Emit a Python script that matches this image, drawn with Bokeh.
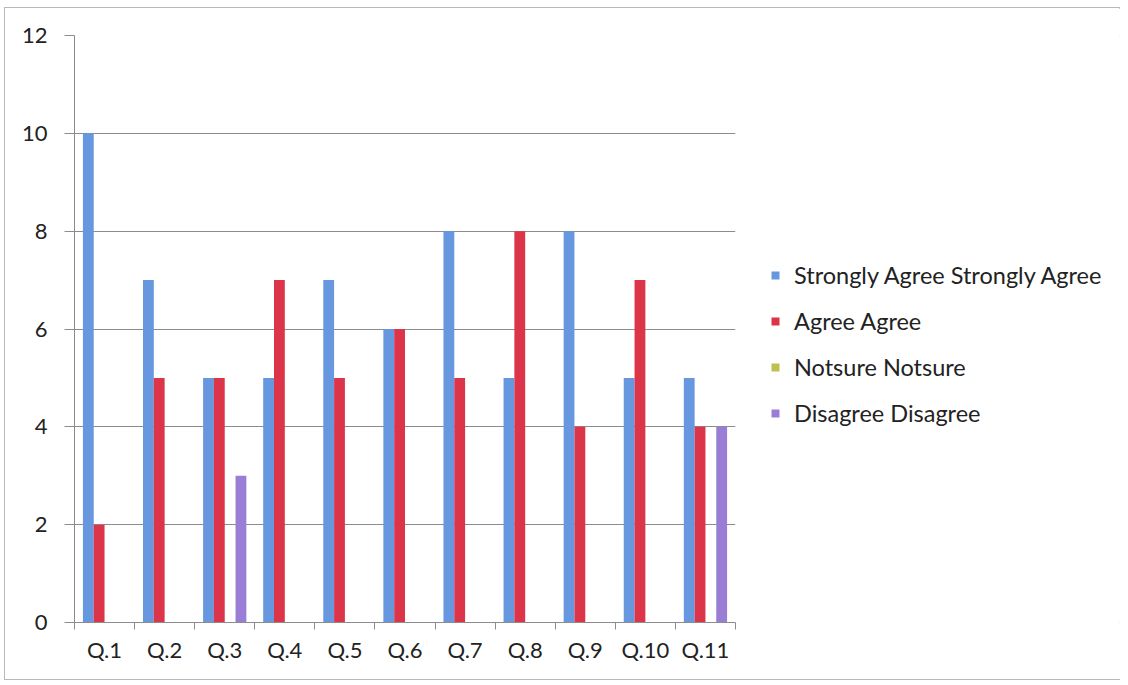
import numpy as np
from bokeh.plotting import figure
from bokeh.layouts import row
from bokeh.models import FixedTicker, Legend, LegendItem, Range1d
from bokeh.embed import file_html
from bokeh.resources import INLINE

categories = ["Q.1", "Q.2", "Q.3", "Q.4", "Q.5", "Q.6", "Q.7", "Q.8", "Q.9", "Q.10", "Q.11"]
strongly_agree = [10, 7, 5, 5, 7, 6, 8, 5, 8, 5, 5]
agree = [2, 5, 5, 7, 5, 6, 5, 8, 4, 7, 4]
notsure = [0, 0, 0, 0, 0, 0, 0, 0, 0, 0, 0]
disagree = [0, 0, 3, 0, 0, 0, 0, 0, 0, 0, 4]

series = [
    ("Strongly Agree Strongly Agree", strongly_agree, "#6797df"),
    ("Agree Agree", agree, "#dc3449"),
    ("Notsure Notsure", notsure, "#bcc04e"),
    ("Disagree Disagree", disagree, "#9a7dd4"),
]
offsets = [-0.27, -0.09, 0.09, 0.27]
FONT = "Lato"
H = 671

p = figure(width=731, height=H, output_backend="svg", toolbar_location=None,
           x_range=Range1d(0, len(categories)), y_range=Range1d(0, 12),
           min_border_left=69, min_border_top=27, min_border_bottom=57, min_border_right=1)
p.outline_line_color = None
p.background_fill_color = "white"
p.border_fill_color = "white"

centers = np.arange(len(categories)) + 0.5
for (name, vals, color), off in zip(series, offsets):
    p.vbar(x=centers + off, top=vals, width=0.18, fill_color=color, line_color=None)

# axes
p.xaxis.ticker = FixedTicker(ticks=list(centers), minor_ticks=list(range(len(categories) + 1)))
p.xaxis.major_label_overrides = {float(c): lab for c, lab in zip(centers, categories)}
p.xaxis.major_tick_out = 0
p.xaxis.major_tick_in = 0
p.xaxis.minor_tick_out = 7
p.xaxis.minor_tick_in = 0
p.xaxis.minor_tick_line_color = "#8c8c8c"
p.yaxis.ticker = FixedTicker(ticks=list(range(0, 13, 2)))
p.yaxis.major_tick_out = 10
p.yaxis.major_tick_in = 0
p.yaxis.minor_tick_line_color = None
for ax in (p.xaxis, p.yaxis):
    ax.axis_line_color = "#8c8c8c"
    ax.major_tick_line_color = "#8c8c8c"
    ax.major_label_text_font = FONT
    ax.major_label_text_color = "#222222"
p.xaxis.major_label_text_font_size = "22px"
p.yaxis.major_label_text_font_size = "22px"
p.yaxis.major_label_standoff = 17
p.xaxis.major_label_standoff = 6

p.xgrid.grid_line_color = None
p.ygrid.ticker = FixedTicker(ticks=list(range(0, 13, 2)))
p.ygrid.grid_line_color = "#8c8c8c"
p.ygrid.grid_line_width = 1

# legend panel (separate figure, same series, glyphs hidden)
lp = figure(width=385, height=H, output_backend="svg", toolbar_location=None,
            x_range=Range1d(0, 1), y_range=Range1d(0, 1),
            min_border=0)
lp.axis.visible = False
lp.grid.visible = False
lp.outline_line_color = None
lp.background_fill_color = "white"
lp.border_fill_color = "white"
items = []
for (name, vals, color), off in zip(series, offsets):
    r = lp.vbar(x=centers + off, top=vals, width=0.18, fill_color=color, line_color=None, visible=False)
    items.append(LegendItem(label=name, renderers=[r]))

legend = Legend(items=items, location=(34, 195), orientation="vertical")
legend.label_text_font = FONT
legend.label_text_font_size = "23.5px"
legend.label_text_color = "#222222"
legend.glyph_width = 10
legend.glyph_height = 10
legend.label_standoff = 14
legend.spacing = 18
legend.border_line_color = None
legend.background_fill_alpha = 0
legend.inactive_fill_alpha = 0
legend.margin = 0
legend.padding = 0
lp.add_layout(legend, "center")

layout = row(p, lp)
layout.styles = {"border": "1px solid #b8b8b8", "margin-left": "4px", "margin-top": "7px",
                 "width": "1116px", "gap": "0px"}

open("out.html", "w").write(file_html(layout, INLINE))
